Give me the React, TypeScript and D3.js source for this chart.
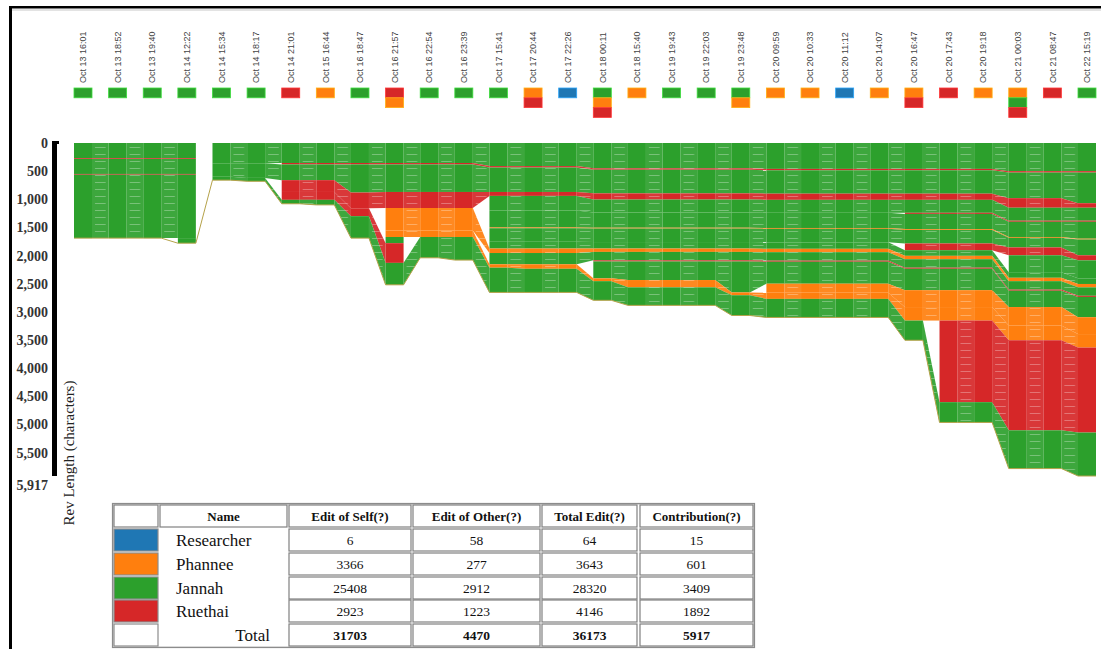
import React from 'react';
import * as d3 from 'd3';

// revision timestamps (one column each)
const revisions = [
  'Oct 13 16:01', 'Oct 13 18:52', 'Oct 13 19:40', 'Oct 14 12:22', 'Oct 14 15:34',
  'Oct 14 18:17', 'Oct 14 21:01', 'Oct 15 16:44', 'Oct 16 18:47', 'Oct 16 21:57',
  'Oct 16 22:54', 'Oct 16 23:39', 'Oct 17 15:41', 'Oct 17 20:44', 'Oct 17 22:26',
  'Oct 18 00:11', 'Oct 18 15:40', 'Oct 19 19:43', 'Oct 19 22:03', 'Oct 19 23:48',
  'Oct 20 09:59', 'Oct 20 10:33', 'Oct 20 11:12', 'Oct 20 14:07', 'Oct 20 16:47',
  'Oct 20 17:43', 'Oct 20 19:18', 'Oct 21 00:03', 'Oct 21 08:47', 'Oct 22 15:19',
];

const authors = ['Researcher', 'Phannee', 'Jannah', 'Ruethai'];
const authorColors = ['#1f77b4', '#ff7f0e', '#2ca02c', '#d62728'];

// who edited each revision (marker stack, top to bottom)
const revisionEditors = [
  ['Jannah'], ['Jannah'], ['Jannah'], ['Jannah'], ['Jannah'],
  ['Jannah'], ['Ruethai'], ['Phannee'], ['Jannah'], ['Ruethai', 'Phannee'],
  ['Jannah'], ['Jannah'], ['Jannah'], ['Phannee', 'Ruethai'], ['Researcher'],
  ['Jannah', 'Phannee', 'Ruethai'], ['Phannee'], ['Jannah'], ['Jannah'], ['Jannah', 'Phannee'],
  ['Phannee'], ['Phannee'], ['Researcher'], ['Phannee'], ['Phannee', 'Ruethai'],
  ['Ruethai'], ['Phannee'], ['Phannee', 'Jannah', 'Ruethai'], ['Ruethai'], ['Jannah'],
];

// text chunks in document order: characters held in each revision
const a1 = [270, 270, 270, 270, 0, 0, 0, 0, 0, 0, 0, 0, 0, 0, 0, 0, 0, 0, 0, 0, 0, 0, 0, 0, 0, 0, 0, 0, 0, 0];
const a2 = [14, 14, 14, 14, 0, 0, 0, 0, 0, 0, 0, 0, 0, 0, 0, 0, 0, 0, 0, 0, 0, 0, 0, 0, 0, 0, 0, 0, 0, 0];
const a3 = [266, 266, 266, 266, 0, 0, 0, 0, 0, 0, 0, 0, 0, 0, 0, 0, 0, 0, 0, 0, 0, 0, 0, 0, 0, 0, 0, 0, 0, 0];
const a4 = [14, 14, 14, 14, 0, 0, 0, 0, 0, 0, 0, 0, 0, 0, 0, 0, 0, 0, 0, 0, 0, 0, 0, 0, 0, 0, 0, 0, 0, 0];
const a5 = [1126, 1126, 1126, 1126, 0, 0, 0, 0, 0, 0, 0, 0, 0, 0, 0, 0, 0, 0, 0, 0, 0, 0, 0, 0, 0, 0, 0, 0, 0, 0];
const a6 = [0, 0, 0, 90, 0, 0, 0, 0, 0, 0, 0, 0, 0, 0, 0, 0, 0, 0, 0, 0, 0, 0, 0, 0, 0, 0, 0, 0, 0, 0];
const b1 = [0, 0, 0, 0, 360, 360, 355, 355, 355, 355, 355, 355, 410, 410, 410, 450, 450, 450, 450, 450, 460, 460, 460, 460, 460, 460, 460, 500, 500, 500];
const b2 = [0, 0, 0, 0, 0, 0, 25, 25, 25, 25, 25, 25, 25, 25, 25, 25, 25, 25, 25, 25, 25, 25, 25, 25, 25, 25, 25, 25, 25, 25];
const b3 = [0, 0, 0, 0, 240, 260, 280, 280, 500, 490, 490, 490, 435, 435, 435, 420, 420, 420, 420, 420, 415, 415, 415, 415, 415, 415, 415, 455, 455, 545];
const b4a = [0, 0, 0, 0, 0, 0, 210, 210, 280, 285, 285, 285, 70, 70, 70, 110, 110, 110, 110, 110, 110, 110, 110, 110, 110, 110, 110, 170, 170, 80];
const b9a = [0, 0, 0, 0, 0, 0, 0, 0, 0, 0, 0, 0, 260, 260, 260, 230, 230, 230, 230, 230, 230, 230, 230, 230, 230, 230, 230, 230, 230, 230];
const b19 = [0, 0, 0, 0, 0, 0, 0, 0, 0, 0, 0, 0, 0, 0, 0, 0, 0, 0, 0, 0, 0, 0, 0, 0, 20, 20, 20, 20, 20, 20];
const b9b = [0, 0, 0, 0, 0, 0, 0, 0, 0, 0, 0, 0, 300, 300, 300, 270, 270, 270, 270, 270, 270, 270, 270, 270, 270, 270, 270, 270, 270, 300];
const b10 = [0, 0, 0, 0, 0, 0, 0, 0, 0, 0, 0, 0, 15, 15, 15, 15, 15, 15, 15, 15, 15, 15, 15, 15, 15, 15, 15, 15, 15, 15];
const b11a = [0, 0, 0, 0, 0, 0, 0, 0, 0, 0, 0, 0, 240, 240, 240, 240, 240, 240, 240, 240, 240, 240, 240, 240, 240, 240, 240, 170, 170, 280];
const b18 = [0, 0, 0, 0, 0, 0, 0, 0, 0, 0, 0, 0, 0, 0, 0, 0, 0, 0, 0, 0, 0, 0, 0, 0, 120, 120, 120, 140, 140, 90];
const b21 = [0, 0, 0, 0, 0, 0, 0, 0, 0, 0, 0, 0, 0, 0, 0, 0, 0, 0, 0, 0, 0, 0, 0, 0, 0, 0, 0, 300, 300, 320];
const b11b = [0, 0, 0, 0, 0, 0, 0, 0, 0, 0, 0, 0, 120, 120, 120, 115, 115, 115, 115, 115, 115, 115, 115, 115, 100, 100, 100, 100, 100, 100];
const b5a = [0, 0, 0, 0, 0, 0, 0, 0, 0, 400, 400, 400, 80, 80, 80, 60, 60, 60, 60, 60, 60, 60, 60, 60, 60, 60, 60, 60, 60, 60];
const b12 = [0, 0, 0, 0, 0, 0, 0, 0, 0, 0, 0, 0, 200, 200, 200, 150, 150, 150, 150, 150, 150, 150, 150, 150, 150, 150, 150, 150, 150, 150];
const b15 = [0, 0, 0, 0, 0, 0, 0, 0, 0, 0, 0, 0, 0, 0, 0, 20, 20, 20, 20, 20, 20, 20, 20, 20, 20, 20, 20, 20, 20, 20];
const b16 = [0, 0, 0, 0, 0, 0, 0, 0, 0, 0, 0, 0, 0, 0, 0, 300, 330, 330, 330, 550, 390, 390, 390, 390, 380, 380, 380, 290, 290, 360];
const b17 = [0, 0, 0, 0, 0, 0, 0, 0, 0, 0, 0, 0, 0, 0, 0, 0, 0, 0, 0, 0, 160, 160, 160, 160, 300, 300, 300, 330, 330, 300];
const b5b = [0, 0, 0, 0, 0, 0, 0, 0, 0, 115, 115, 115, 60, 80, 80, 50, 130, 130, 130, 50, 110, 110, 110, 110, 240, 240, 240, 260, 260, 240];
const b8 = [0, 0, 0, 0, 0, 0, 0, 0, 0, 110, 0, 0, 0, 0, 0, 0, 0, 0, 0, 0, 0, 0, 0, 0, 0, 0, 0, 0, 0, 0];
const b4b = [0, 0, 0, 0, 0, 0, 140, 140, 140, 350, 0, 0, 0, 0, 0, 0, 0, 0, 0, 0, 0, 0, 0, 0, 0, 0, 0, 0, 0, 0];
const b20 = [0, 0, 0, 0, 0, 0, 0, 0, 0, 0, 0, 0, 0, 0, 0, 0, 0, 0, 0, 0, 0, 0, 0, 0, 0, 1450, 1450, 1600, 1600, 1510];
const b7 = [0, 0, 0, 0, 60, 60, 70, 90, 390, 390, 370, 410, 440, 420, 420, 340, 320, 320, 320, 360, 330, 330, 330, 330, 350, 360, 360, 680, 680, 772];

const chunkLengths = [a1, a2, a3, a4, a5, a6, b1, b2, b3, b4a, b9a, b19, b9b, b10, b11a, b18, b21, b11b, b5a, b12, b15, b16, b17, b5b, b8, b4b, b20, b7];
const chunkAuthors = [
  'Jannah', 'Ruethai', 'Jannah', 'Ruethai', 'Jannah', 'Jannah',
  'Jannah', 'Ruethai', 'Jannah', 'Ruethai', 'Jannah', 'Ruethai', 'Jannah', 'Phannee',
  'Jannah', 'Ruethai', 'Jannah', 'Jannah', 'Phannee', 'Jannah', 'Ruethai', 'Jannah',
  'Phannee', 'Phannee', 'Jannah', 'Ruethai', 'Ruethai', 'Jannah',
];

const yTicks = [0, 500, 1000, 1500, 2000, 2500, 3000, 3500, 4000, 4500, 5000, 5500];

// summary table
const editSelf = [6, 3366, 25408, 2923];
const editOther = [58, 277, 2912, 1223];
const totalEdit = [64, 3643, 28320, 4146];
const contribution = [15, 601, 3409, 1892];
const tableHeaders = ['', 'Name', 'Edit of Self(?)', 'Edit of Other(?)', 'Total Edit(?)', 'Contribution(?)'];

const serif = '"Liberation Serif", "Times New Roman", serif';
const sans = '"Liberation Sans", Arial, sans-serif';

export default function App() {
  const total = d3.sum(contribution);
  const x = d3.scalePoint<string>().domain(revisions).range([83, 1087]);
  const y = d3.scaleLinear().domain([0, total]).range([143, 476]);
  const color = d3.scaleOrdinal<string, string>().domain(authors).range(authorColors);
  const half = 9;
  const step = x.step();
  const cx = (r: number) => x(revisions[r]) as number;

  // stacked start/end of each chunk per revision
  const bounds = revisions.map((_, r) => {
    let acc = 0;
    return chunkLengths.map(l => {
      const s = acc;
      acc += l[r];
      return [s, acc];
    });
  });
  const totals = revisions.map((_, r) => d3.sum(chunkLengths, l => l[r]));

  const connectors: { pts: string; fill: string; key: string }[] = [];
  for (let r = 0; r < revisions.length - 1; r++) {
    chunkLengths.forEach((l, k) => {
      if (l[r] > 0 && l[r + 1] > 0) {
        const x0 = cx(r) + half, x1 = cx(r + 1) - half;
        const [s0, e0] = bounds[r][k];
        const [s1, e1] = bounds[r + 1][k];
        connectors.push({
          key: `${r}-${k}`,
          fill: color(chunkAuthors[k]),
          pts: `${x0},${y(s0)} ${x1},${y(s1)} ${x1},${y(e1)} ${x0},${y(e0)}`,
        });
      }
    });
  }

  const bottomPts: [number, number][] = [];
  totals.forEach((t, r) => {
    bottomPts.push([cx(r) - half, y(t)], [cx(r) + half, y(t)]);
  });
  const bottomLine = d3.line()(bottomPts) || '';

  // table layout
  const colX = [114, 160, 289, 413, 542, 640];
  const colW = [44, 127, 122, 127, 95, 113];
  const rowY = [505, 529, 553, 577, 600, 624];
  const rowH = 22;
  const numCols = [editSelf, editOther, totalEdit, contribution];

  return (
    <div style={{ position: 'absolute', left: 0, top: 0 }}>
      <svg width={1101} height={649} style={{ display: 'block', background: '#fff' }}>
        <defs>
          <pattern id="textLines" patternUnits="userSpaceOnUse" x={cx(0) + half} y={0} width={step} height={7}>
            <rect x={3} y={0} width={step - 2 * half - 6} height={1} fill="#fff" opacity={0.3} />
          </pattern>
        </defs>

        {/* frame */}
        <rect x={9} y={6} width={1092} height={2.5} fill="#000" />
        <line x1={12} x2={1101} y1={10} y2={10} stroke="#c8c8c8" strokeWidth={1} />
        <rect x={9} y={6} width={3} height={643} fill="#000" />

        {/* revision labels and editor markers */}
        {revisions.map((rev, r) => (
          <g key={rev}>
            <text
              transform={`translate(${cx(r) + 3.2},83) rotate(-90)`}
              fontFamily={sans}
              fontSize={9}
              fill="#444"
            >
              {rev}
            </text>
            {revisionEditors[r].map((a, i) => (
              <rect
                key={a}
                x={cx(r) - half}
                y={88 + i * 9.8}
                width={half * 2}
                height={9.8}
                fill={color(a)}
                stroke={d3.color(color(a))!.brighter(0.9).toString()}
                strokeWidth={0.8}
              />
            ))}
          </g>
        ))}

        {/* flow connectors */}
        {connectors.map(c => (
          <polygon key={c.key} points={c.pts} fill={c.fill} fillOpacity={0.92} />
        ))}
        {connectors.map(c => (
          <polygon key={'t' + c.key} points={c.pts} fill="url(#textLines)" />
        ))}

        {/* revision columns */}
        {revisions.map((rev, r) =>
          chunkLengths.map((l, k) =>
            l[r] > 0 ? (
              <rect
                key={`${rev}-${k}`}
                x={cx(r) - half}
                y={y(bounds[r][k][0])}
                width={half * 2}
                height={y(bounds[r][k][1]) - y(bounds[r][k][0])}
                fill={color(chunkAuthors[k])}
              />
            ) : null
          )
        )}
        <path d={bottomLine} fill="none" stroke="#b5a24a" strokeWidth={1} />

        {/* y axis */}
        <rect x={52} y={141} width={5} height={y(total) - 141} fill="#000" />
        <rect x={52} y={141} width={7} height={3} fill="#000" />
        {yTicks.map(t => (
          <text key={t} x={48} y={y(t) + 5} textAnchor="end" fontFamily={serif} fontSize={14} fontWeight="bold" fill="#333">
            {d3.format(',')(t)}
          </text>
        ))}
        <text x={48} y={y(total) + 14} textAnchor="end" fontFamily={serif} fontSize={14} fontWeight="bold" fill="#333">
          {d3.format(',')(total)}
        </text>
        <text transform="translate(74,453) rotate(-90)" textAnchor="middle" fontFamily={serif} fontSize={15} fill="#222">
          Rev Length (characters)
        </text>

        {/* summary table */}
        <rect x={112.5} y={503.5} width={642} height={144} fill="#fff" stroke="#8c8c8c" strokeWidth={1.2} />
        <rect x={113.5} y={504.5} width={640} height={142} fill="none" stroke="#d4d4d4" strokeWidth={0.8} />
        {tableHeaders.map((h, c) => (
          <g key={'h' + c}>
            <rect x={colX[c]} y={rowY[0]} width={colW[c]} height={rowH} fill="#fff" stroke="#808080" strokeWidth={1.2} />
            <text x={colX[c] + colW[c] / 2} y={rowY[0] + 15.5} textAnchor="middle" fontFamily={serif} fontSize={13} fontWeight="bold" fill="#111">
              {h}
            </text>
          </g>
        ))}
        {authors.map((a, i) => (
          <g key={a}>
            <rect x={colX[0]} y={rowY[i + 1]} width={colW[0]} height={rowH} fill={color(a)} stroke="#8c8c8c" strokeWidth={1.2} />
            <text x={176} y={rowY[i + 1] + 17} fontFamily={serif} fontSize={17} fill="#111">
              {a}
            </text>
            {numCols.map((col, c) => (
              <g key={c}>
                <rect x={colX[c + 2]} y={rowY[i + 1]} width={colW[c + 2]} height={rowH} fill="#fff" stroke="#808080" strokeWidth={1.2} />
                <text x={colX[c + 2] + colW[c + 2] / 2} y={rowY[i + 1] + 15.5} textAnchor="middle" fontFamily={serif} fontSize={13.5} fill="#111">
                  {col[i]}
                </text>
              </g>
            ))}
          </g>
        ))}
        <rect x={colX[0]} y={rowY[5]} width={colW[0]} height={rowH} fill="#fff" stroke="#8c8c8c" strokeWidth={1.2} />
        <text x={270} y={rowY[5] + 17} textAnchor="end" fontFamily={serif} fontSize={17} fill="#111">
          Total
        </text>
        {numCols.map((col, c) => (
          <g key={'tot' + c}>
            <rect x={colX[c + 2]} y={rowY[5]} width={colW[c + 2]} height={rowH} fill="#fff" stroke="#808080" strokeWidth={1.2} />
            <text x={colX[c + 2] + colW[c + 2] / 2} y={rowY[5] + 15.5} textAnchor="middle" fontFamily={serif} fontSize={13.5} fontWeight="bold" fill="#111">
              {d3.sum(col)}
            </text>
          </g>
        ))}
      </svg>
    </div>
  );
}
